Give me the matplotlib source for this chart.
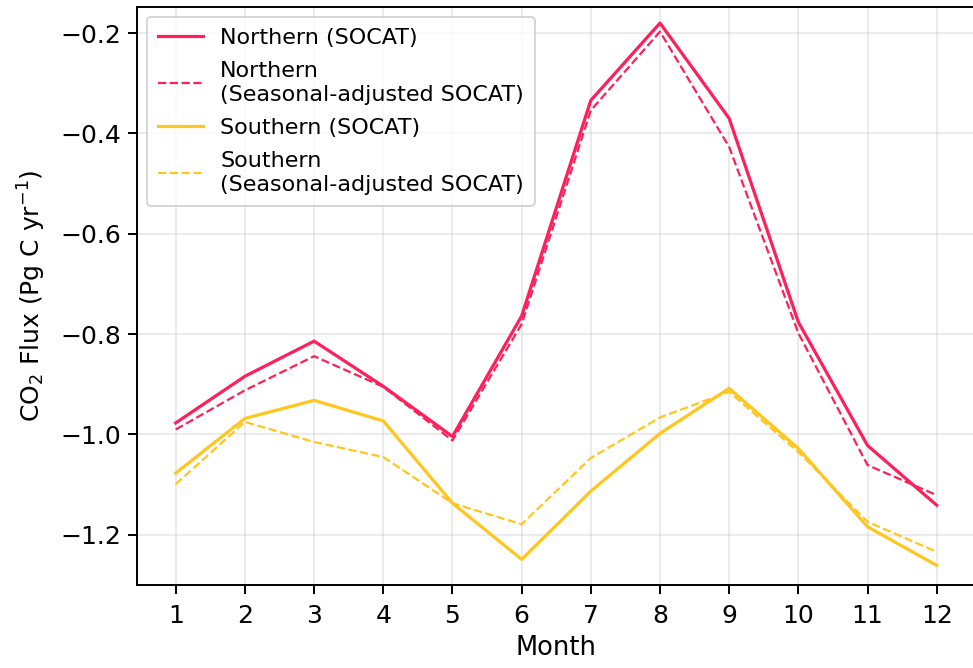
import numpy as np
import matplotlib
matplotlib.use('Agg')
import matplotlib.pyplot as plt

# Meses
months = np.arange(1, 13)

# Flujo de CO2 (Pg C / año)
north_socat = [-0.977, -0.884, -0.814, -0.904, -1.004, -0.764,
               -0.334, -0.180, -0.370, -0.776, -1.022, -1.141]
north_adj = [-0.990, -0.912, -0.844, -0.905, -1.012, -0.780,
             -0.354, -0.197, -0.427, -0.798, -1.061, -1.121]
south_socat = [-1.077, -0.968, -0.932, -0.973, -1.137, -1.249,
               -1.113, -0.998, -0.908, -1.028, -1.184, -1.261]
south_adj = [-1.099, -0.975, -1.015, -1.045, -1.137, -1.179,
             -1.047, -0.966, -0.915, -1.035, -1.174, -1.234]

red = '#FF1F5B'
yellow = '#FFC61E'

fig = plt.figure(figsize=(9.73, 6.68), dpi=100)
ax = fig.add_axes([0.1408, 0.1243, 0.861, 0.8652])

ax.plot(months, north_socat, color=red, lw=2.3, label='Northern (SOCAT)')
ax.plot(months, north_adj, color=red, lw=1.6, ls='--',
        label='Northern\n(Seasonal-adjusted SOCAT)')
ax.plot(months, south_socat, color=yellow, lw=2.3, label='Southern (SOCAT)')
ax.plot(months, south_adj, color=yellow, lw=1.6, ls='--',
        label='Southern\n(Seasonal-adjusted SOCAT)')

ax.set_xticks(months)
ax.set_xlim(0.44, 12.55)
ax.set_ylim(-1.3, -0.148)
ax.set_yticks([-1.2, -1.0, -0.8, -0.6, -0.4, -0.2])
ax.tick_params(labelsize=18, width=1.4, length=6.5, pad=5)
ax.tick_params(axis='x', pad=7)
for s in ax.spines.values():
    s.set_linewidth(1.4)
ax.grid(True, color='#cccccc', alpha=0.4, lw=1.4)
ax.set_axisbelow(True)

ax.set_xlabel('Month', fontsize=18.5, labelpad=5)
ax.set_ylabel('CO$_2$ Flux (Pg C yr$^{-1}$)', fontsize=18, labelpad=9)

leg = ax.legend(loc='upper left', fontsize=16, handlelength=2.0,
                borderaxespad=0.45, labelspacing=0.6, borderpad=0.5)
leg.get_frame().set_linewidth(1.4)

fig.savefig('out.png', dpi=100)
